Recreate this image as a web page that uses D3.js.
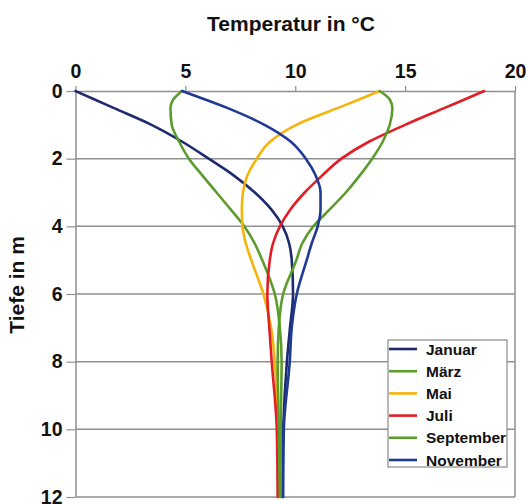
<!DOCTYPE html>
<html><head><meta charset="utf-8">
<script src="https://cdn.jsdelivr.net/npm/d3@7"></script>
<style>body{margin:0;background:#fff}svg{display:block}text{font-family:"Liberation Sans",Arial,sans-serif;font-weight:bold;fill:#111}</style>
</head><body><svg id="c" width="527" height="504"></svg>
<script>
const depths = [0,0.25,0.5,1,1.5,2,2.5,3,3.5,4,4.5,5,6,7,8,10,12];
const januar    = [0,0.87,1.73,3.46,4.86,6.06,7.21,8.16,8.91,9.43,9.72,9.84,9.9,9.76,9.62,9.45,9.4];
const maerz     = [4.85,4.45,4.32,4.38,4.72,5.16,5.78,6.42,7.06,7.68,8.15,8.5,9.07,9.3,9.38,9.34,9.34];
const mai       = [13.84,12.9,11.95,10.05,8.85,8.25,7.82,7.62,7.57,7.6,7.75,8.0,8.55,8.9,9.07,9.2,9.25];
const juli      = [18.6,17.7,16.8,15.0,13.35,12.1,11.22,10.43,9.78,9.3,8.99,8.84,8.73,8.82,8.93,9.16,9.2];
const september = [13.84,14.3,14.42,14.3,13.98,13.5,12.93,12.3,11.57,10.82,10.32,10.05,9.45,9.25,9.2,9.25,9.3];
const november  = [4.85,5.9,6.9,8.6,9.8,10.48,10.93,11.15,11.15,11.02,10.75,10.52,10.07,9.84,9.75,9.48,9.45];
const seriesNames = ["Januar","März","Mai","Juli","September","November"];
const seriesColors = ["#1d2b6e","#5c9c2c","#f4b40c","#e31d25","#5c9c2c","#1f3a94"];
const xTicks = [0,5,10,15,20];
const yTicks = [0,2,4,6,8,10,12];
const allSeries = [januar, maerz, mai, juli, september, november];

const svg = d3.select("#c");
const x = d3.scaleLinear().domain([0,20]).range([75.5,515]);
const y = d3.scaleLinear().domain([0,12]).range([91,497]);

svg.append("g").selectAll("line").data(yTicks.slice(1)).join("line")
  .attr("x1",x(0)).attr("x2",x(20)).attr("y1",d=>y(d)).attr("y2",d=>y(d))
  .attr("stroke","#8f8f8f").attr("stroke-width",1.5);
svg.append("line").attr("x1",x(20)).attr("x2",x(20)).attr("y1",y(0)).attr("y2",y(12))
  .attr("stroke","#8f8f8f").attr("stroke-width",1.5);

const gx = svg.append("g").attr("transform",`translate(0,${y(0)})`)
  .call(d3.axisTop(x).tickValues(xTicks).tickSize(5).tickPadding(8).tickSizeOuter(0));
gx.select(".domain").attr("stroke","#8f8f8f").attr("stroke-width",1.5);
gx.selectAll(".tick line").attr("stroke","#8f8f8f").attr("stroke-width",1.2);
gx.selectAll("text").attr("font-size",19.5).attr("fill","#111").attr("font-family",'"Liberation Sans",Arial,sans-serif').attr("font-weight","bold");

const gy = svg.append("g").attr("transform",`translate(${x(0)},0)`)
  .call(d3.axisLeft(y).tickValues(yTicks).tickSize(9).tickPadding(4).tickSizeOuter(0));
gy.select(".domain").attr("stroke","#8f8f8f").attr("stroke-width",1.5);
gy.selectAll(".tick line").attr("stroke","#8f8f8f").attr("stroke-width",1.2);
gy.selectAll("text").attr("font-size",19.5).attr("fill","#111").attr("font-family",'"Liberation Sans",Arial,sans-serif').attr("font-weight","bold");

const line = d3.line().x(d=>x(d[0])).y(d=>y(d[1])).curve(d3.curveMonotoneY);
allSeries.forEach((s,i)=>{
  svg.append("path").datum(s.map((v,k)=>[v,depths[k]]))
    .attr("d",line).attr("fill","none").attr("stroke",seriesColors[i]).attr("stroke-width",2.6)
    .attr("stroke-linejoin","round").attr("stroke-linecap","round");
});

svg.append("text").attr("x",291).attr("y",31).attr("text-anchor","middle").attr("font-size",21).text("Temperatur in °C");
svg.append("text").attr("transform","translate(24,285) rotate(-90)").attr("text-anchor","middle").attr("font-size",21).text("Tiefe in m");

const lg = svg.append("g");
lg.append("rect").attr("x",388).attr("y",340).attr("width",119).attr("height",127)
  .attr("fill","#fff").attr("stroke","#8a8a8a").attr("stroke-width",1.2);
seriesNames.forEach((n,i)=>{
  const yy = 349 + i*22.2;
  lg.append("line").attr("x1",389).attr("x2",417).attr("y1",yy).attr("y2",yy)
    .attr("stroke",seriesColors[i]).attr("stroke-width",2.6);
  lg.append("text").attr("x",426).attr("y",yy+5.5).attr("font-size",15.5).text(n);
});
</script></body></html>
